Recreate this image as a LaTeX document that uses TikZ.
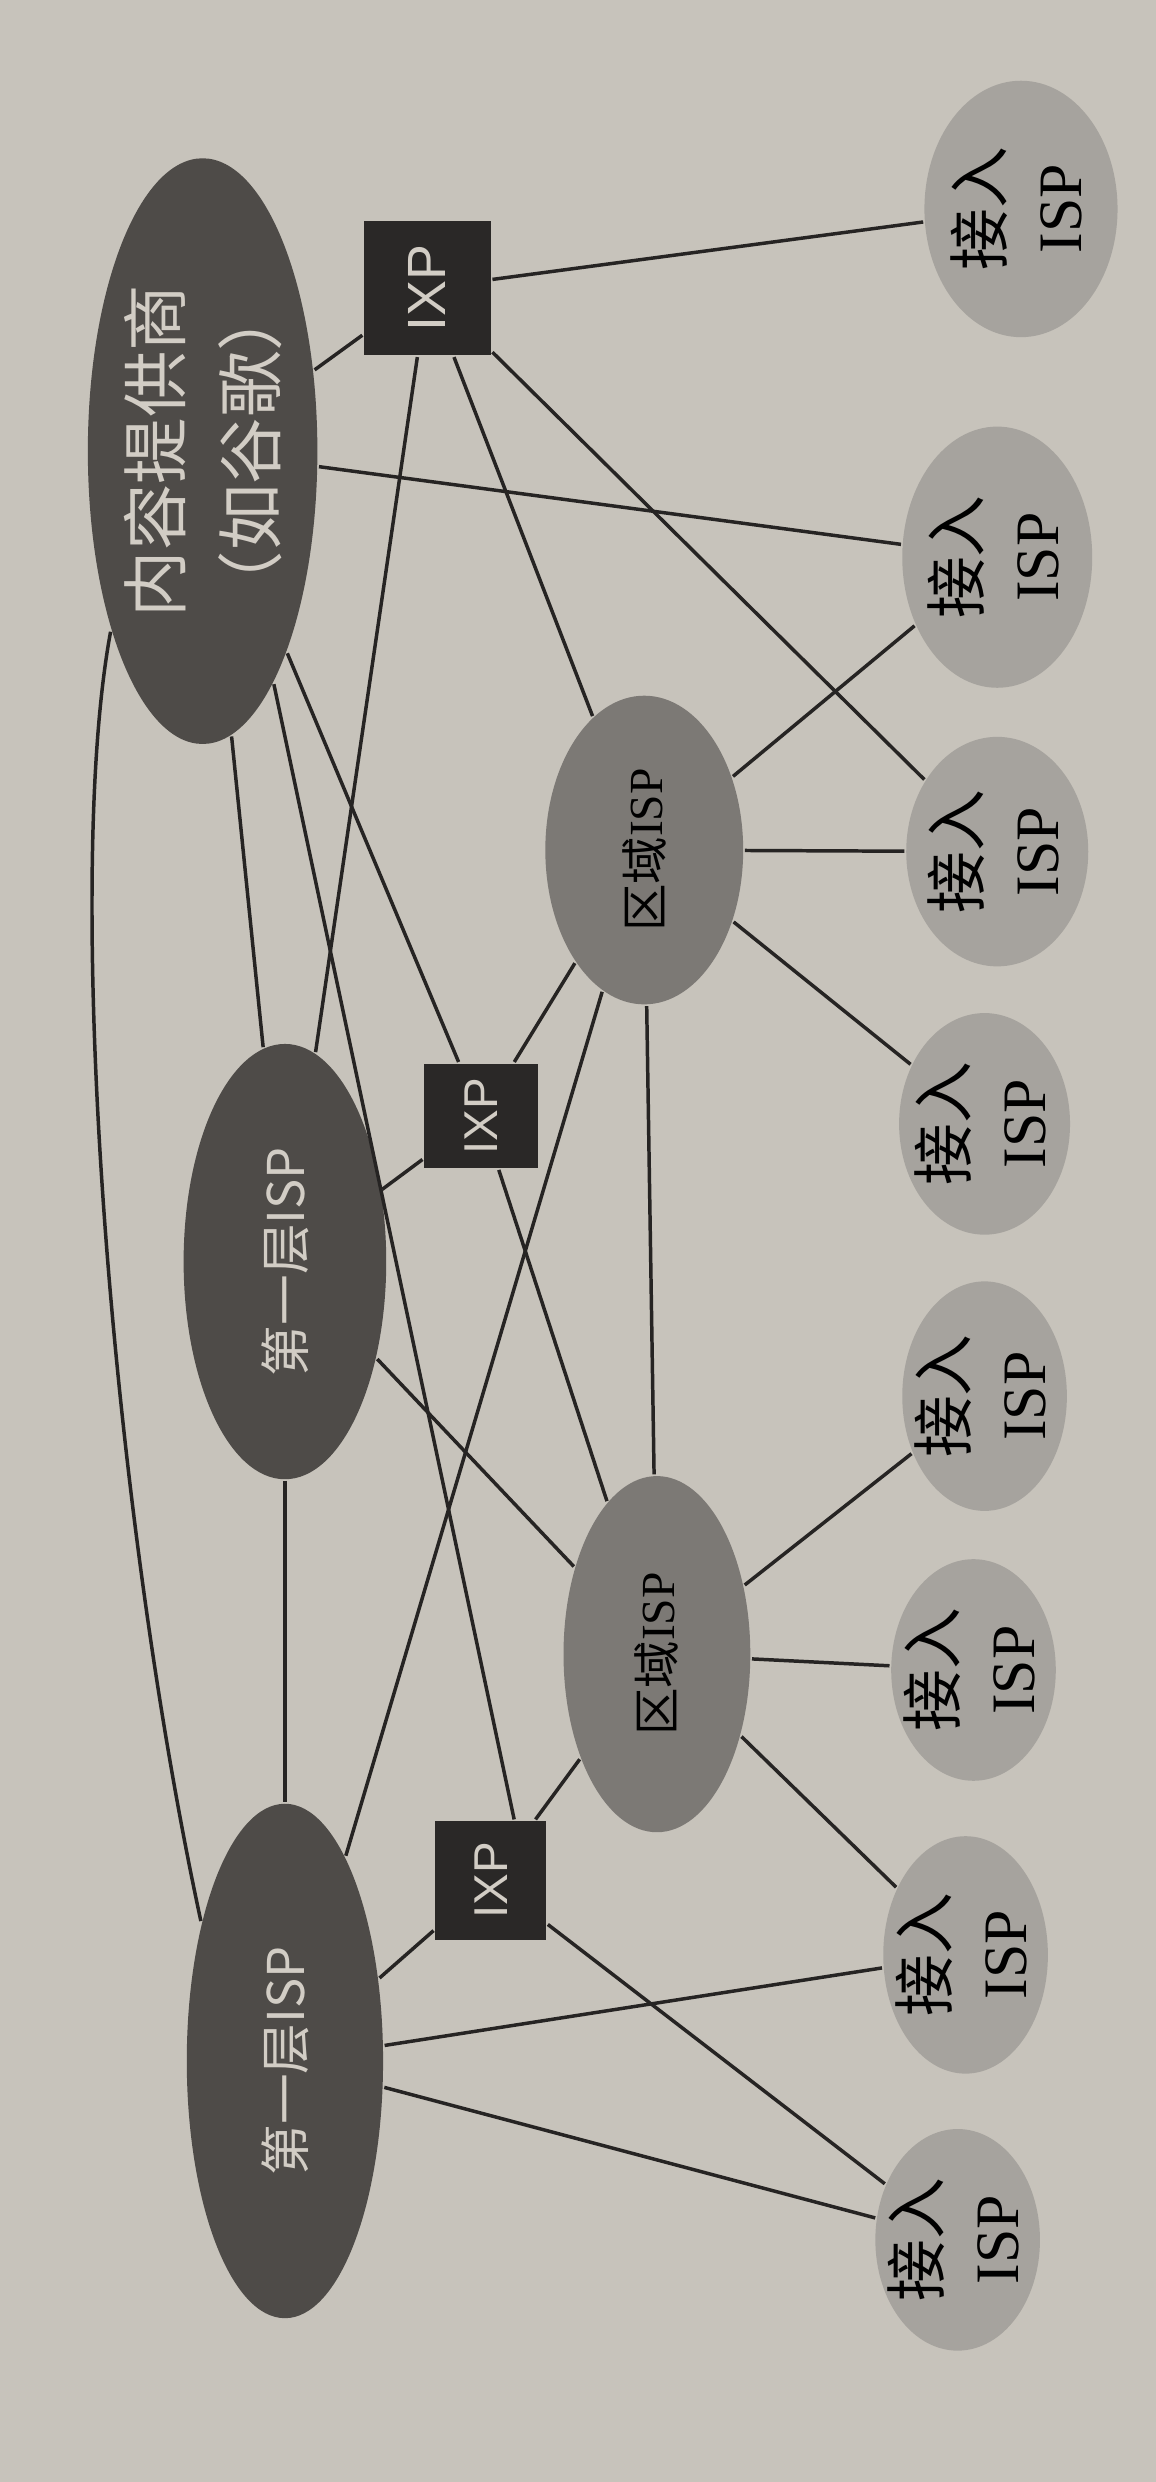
\documentclass[tikz,border=0pt]{standalone}
\usepackage{fontspec}
\setmainfont{Liberation Serif}
\setsansfont{Liberation Sans}
\newfontfamily\cjk{Noto Sans CJK SC}
\usetikzlibrary{shapes.geometric}

\definecolor{paper}{RGB}{199,195,187}
\definecolor{tierfill}{RGB}{78,75,72}
\definecolor{regionfill}{RGB}{124,121,117}
\definecolor{accessfill}{RGB}{166,163,158}
\definecolor{ixpfill}{RGB}{42,40,39}
\definecolor{lighttext}{RGB}{210,205,197}
\definecolor{linegray}{RGB}{38,36,35}

\newcommand{\twolines}[2]{\smash{\raisebox{-0.25em}{\begin{tabular}{@{}c@{}}#1\\#2\end{tabular}}}}

\begin{document}
\begin{tikzpicture}[x=1pt,y=-1pt,line width=2.2pt,draw=linegray,
	tierone/.style={ellipse,fill=tierfill,text=lighttext,inner sep=0pt,rotate=90,font=\cjk\fontsize{32}{40}\selectfont},
	region/.style={ellipse,fill=regionfill,text=black,inner sep=0pt,rotate=90,font=\fontsize{30}{36}\selectfont},
	access/.style={ellipse,fill=accessfill,text=black,inner sep=0pt,rotate=90,font=\fontsize{39}{50}\selectfont},
	ixp/.style={rectangle,fill=ixpfill,text=lighttext,inner sep=0pt,rotate=90,font=\sffamily\fontsize{30}{36}\selectfont}]
	\fill[paper] (0,0) rectangle (730,1568);
	\useasboundingbox (0,0) rectangle (730,1568);

	\node (CP) at (128,285)	[tierone, minimum width=370, minimum height=145, font=\cjk\fontsize{42}{60}\selectfont]	{\twolines{内容提供商}{（如谷歌）}};
	\node (T1) at (180,797)	[tierone, minimum width=275, minimum height=128]	{第一层ISP};
	\node (T2) at (180,1302)	[tierone, minimum width=325, minimum height=124]	{第一层ISP};
	\node (R1) at (407,537)	[region, minimum width=195, minimum height=125]	{{\cjk 区域}ISP};
	\node (R2) at (415,1045)	[region, minimum width=225, minimum height=118]	{{\cjk 区域}ISP};
	\node (X1) at (270,182)	[ixp, minimum width=85, minimum height=80, font=\sffamily\fontsize{34}{40}\selectfont]	{IXP};
	\node (X2) at (304,705)	[ixp, minimum width=66, minimum height=72]	{IXP};
	\node (X3) at (310,1188)	[ixp, minimum width=75, minimum height=70]	{IXP};
	\node (A1) at (645,132)	[access, minimum width=162, minimum height=122]	{\twolines{{\cjk 接入}}{ISP}};
	\node (A2) at (630,352)	[access, minimum width=165, minimum height=120]	{\twolines{{\cjk 接入}}{ISP}};
	\node (A3) at (630,538)	[access, minimum width=145, minimum height=115]	{\twolines{{\cjk 接入}}{ISP}};
	\node (A4) at (622,710)	[access, minimum width=140, minimum height=108]	{\twolines{{\cjk 接入}}{ISP}};
	\node (A5) at (622,882)	[access, minimum width=145, minimum height=104]	{\twolines{{\cjk 接入}}{ISP}};
	\node (A6) at (615,1055)	[access, minimum width=140, minimum height=104]	{\twolines{{\cjk 接入}}{ISP}};
	\node (A7) at (610,1235)	[access, minimum width=150, minimum height=104]	{\twolines{{\cjk 接入}}{ISP}};
	\node (A8) at (605,1415)	[access, minimum width=140, minimum height=104]	{\twolines{{\cjk 接入}}{ISP}};

	\draw (CP) -- (X1);
	\draw (X1) -- (A1);
	\draw (CP) -- (A2);
	\draw (CP.153) .. controls (40,560) and (70,950) .. (T2.31);
	\draw (CP) -- (T1);
	\draw (CP) -- (X2);
	\draw (CP.197) -- (X3.-21);
	\draw (X1) -- (R1);
	\draw (X1) -- (A3);
	\draw (X1) -- (T1);
	\draw (R1) -- (A2);
	\draw (R1) -- (A3);
	\draw (R1) -- (A4);
	\draw (R1) -- (X2);
	\draw (R1) -- (R2);
	\draw (R1) -- (T2);
	\draw (T1) -- (X2);
	\draw (T1) -- (R2);
	\draw (T1) -- (T2);
	\draw (X2) -- (R2);
	\draw (R2) -- (A5);
	\draw (R2) -- (A6);
	\draw (R2) -- (A7);
	\draw (R2) -- (X3);
	\draw (X3) -- (T2);
	\draw (X3) -- (A8);
	\draw (T2) -- (A7);
	\draw (T2) -- (A8);
\end{tikzpicture}
\end{document}
